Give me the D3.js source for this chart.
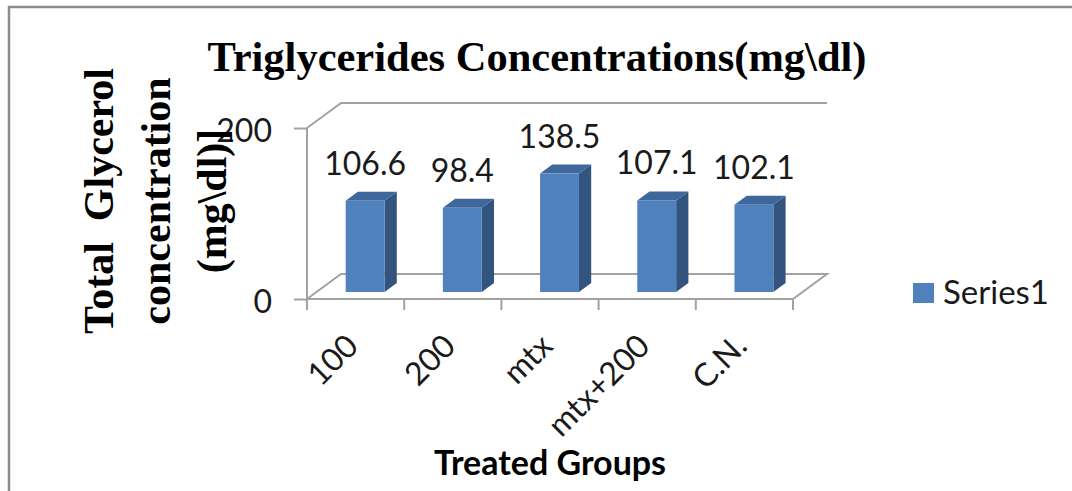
<!DOCTYPE html>
<html>
<head>
<meta charset="utf-8">
<script src="https://cdn.jsdelivr.net/npm/d3@7"></script>
<style>
  html, body { margin: 0; padding: 0; background: #fff; }
  svg { display: block; }
</style>
</head>
<body>
<svg id="chart" width="1072" height="491"></svg>
<script>
// Triglycerides by treated group
const categories = ["100", "200", "mtx", "mtx+200", "C.N."];
const values = [106.6, 98.4, 138.5, 107.1, 102.1];
const yTicks = [0, 200];
const seriesName = "Series1";
const titleText = "Triglycerides Concentrations(mg\\dl)";
const yTitleLines = ["Total  Glycerol", "concentration", "(mg\\dl)]"];
const xTitleText = "Treated Groups";

const svg = d3.select("#chart");
const sans = "Lato, 'Open Sans', sans-serif";
const serif = "'Liberation Serif', 'Times New Roman', serif";
const gridColor = "#a2a2a2";

// frame
svg.append("rect")
  .attr("x", 9).attr("y", 7).attr("width", 1200).attr("height", 800)
  .attr("fill", "none").attr("stroke", "#8c8c8c").attr("stroke-width", 2.5);

// scales
const x = d3.scaleBand().domain(categories).range([307, 793]).padding(0);
const y = d3.scaleLinear().domain([0, 200]).range([299, 128]);

// oblique depth vector of the 3D box and bar placement along it
const depth = { x: 34, y: -25 };
const f0 = 0.28, f1 = 0.64;
const barW = x.bandwidth() * 0.4;

const x0 = x.range()[0], x1 = x.range()[1];
const yTop = y(200), yBase = y(0);

// back wall top edge and floor outline
const g = svg.append("g").attr("fill", "none").attr("stroke", gridColor).attr("stroke-width", 2);
g.append("path").attr("d", d3.line()([
  [x0, yTop], [x0 + depth.x, yTop + depth.y], [x1 + depth.x, yTop + depth.y]
]));
g.append("path").attr("d", d3.line()([
  [x0, yBase], [x0 + depth.x, yBase + depth.y], [x1 + depth.x, yBase + depth.y], [x1, yBase], [x0, yBase]
]));
// vertical axis
g.append("line").attr("x1", x0).attr("x2", x0).attr("y1", yTop).attr("y2", yBase + 11);

// category boundary ticks
const bounds = categories.map(c => x(c)).concat([x(categories[categories.length - 1]) + x.bandwidth()]);
g.selectAll("line.xt").data(bounds).enter().append("line")
  .attr("class", "xt")
  .attr("x1", d => d).attr("x2", d => d)
  .attr("y1", yBase).attr("y2", yBase + 11);

// value axis ticks and labels
const yAxis = d3.axisLeft(y).tickValues(yTicks).tickSize(13).tickPadding(22).tickFormat(d3.format("d"));
const ya = svg.append("g").attr("transform", `translate(${x0},0)`).call(yAxis);
ya.select(".domain").remove();
ya.selectAll(".tick line").attr("stroke", gridColor).attr("stroke-width", 2);
ya.selectAll(".tick text")
  .attr("font-family", sans).attr("font-size", 32).attr("fill", "#1a1a1a").attr("dy", "0.42em");

// bars
const fc = d => x(d.c) + x.bandwidth() / 2 + depth.x * f0;
const data = categories.map((c, i) => ({ c, v: values[i] }));
const bars = svg.append("g").selectAll("g").data(data).enter().append("g");
const ddx = depth.x * (f1 - f0), ddy = depth.y * (f1 - f0);

bars.each(function (d) {
  const gg = d3.select(this);
  const l = fc(d) - barW / 2, r = fc(d) + barW / 2;
  const t = y(d.v) + depth.y * f0, b = y(0) + depth.y * f0;
  // side face
  gg.append("path").attr("d", d3.line()([[r, b], [r, t], [r + ddx, t + ddy], [r + ddx, b + ddy]]) + "Z")
    .attr("fill", "#33547f");
  // top face
  gg.append("path").attr("d", d3.line()([[l, t], [r, t], [r + ddx, t + ddy], [l + ddx, t + ddy]]) + "Z")
    .attr("fill", "#3e679c");
  // front face
  gg.append("rect").attr("x", l).attr("y", t).attr("width", barW).attr("height", b - t)
    .attr("fill", "#4f81bd");
});

// data labels
svg.append("g").selectAll("text").data(data).enter().append("text")
  .attr("x", d => fc(d))
  .attr("y", d => y(d.v) + depth.y * f1 - 17)
  .attr("text-anchor", "middle")
  .attr("font-family", sans).attr("font-size", 32).attr("fill", "#1a1a1a")
  .text(d => d.v.toFixed(1));

// category labels
svg.append("g").selectAll("text").data(categories).enter().append("text")
  .attr("transform", c => `translate(${x(c) + x.bandwidth() / 2 + 4.5},${yBase + 49}) rotate(-45)`)
  .attr("text-anchor", "end")
  .attr("font-family", sans).attr("font-size", 32).attr("fill", "#1a1a1a")
  .text(c => c);

// title
svg.append("text")
  .attr("x", 537).attr("y", 71).attr("text-anchor", "middle")
  .attr("font-family", serif).attr("font-weight", "bold").attr("font-size", 42.5)
  .attr("fill", "#000").text(titleText);

// value axis title
const yt = svg.append("text")
  .attr("transform", "translate(0,201) rotate(-90)")
  .attr("text-anchor", "middle")
  .attr("font-family", serif).attr("font-weight", "bold").attr("font-size", 42).attr("fill", "#000")
  .style("white-space", "pre");
const lineX = [113, 170, 226];
yTitleLines.forEach((s, i) => {
  yt.append("tspan").attr("x", 0).attr("y", lineX[i]).text(s);
});

// category axis title
svg.append("text")
  .attr("x", (x0 + x1) / 2).attr("y", 475).attr("text-anchor", "middle")
  .attr("font-family", sans).attr("font-weight", "bold").attr("font-size", 34).attr("fill", "#000")
  .text(xTitleText);

// legend
const lg = svg.append("g");
lg.append("rect").attr("x", 913).attr("y", 283).attr("width", 21).attr("height", 20).attr("fill", "#4f81bd");
lg.append("text").attr("x", 943).attr("y", 304)
  .attr("font-family", sans).attr("font-size", 33).attr("fill", "#1a1a1a").text(seriesName);
</script>
</body>
</html>
